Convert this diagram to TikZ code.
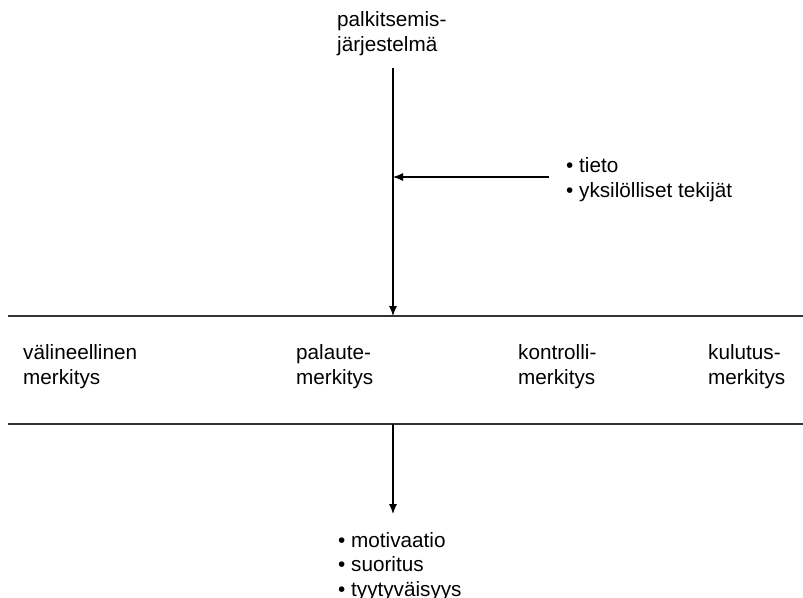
\documentclass[tikz,border=0pt]{standalone}
\usepackage{fontspec}
\setmainfont{Liberation Sans}
\usetikzlibrary{arrows.meta}
\begin{document}
\begin{tikzpicture}[x=1pt,y=-1pt,
  lbl/.style={anchor=base west,inner sep=0pt,align=left,
    font=\fontsize{20.7}{24.5}\selectfont},
  arr/.style={line width=1.1pt,-{Latex[length=10pt,width=8pt]}},
  band/.style={line width=1.5pt,draw=black!80}]
\useasboundingbox (0,0) rectangle (803,597);
% source of the flow (anchored at the baseline of the last line)
\node[lbl] (sys) at (337,51) {palkitsemis-\\järjestelmä};
\coordinate (top) at (393,68);
% the band of meanings
\coordinate (bandTL) at (8,316);
\coordinate (bandTR) at (803,316);
\coordinate (bandBL) at (8,424);
\coordinate (bandBR) at (803,424);
\draw[band] (bandTL) -- (bandTR);
\draw[band] (bandBL) -- (bandBR);
\coordinate (hit) at (393,316);
\coordinate (out) at (393,424);
\node[lbl] (m1) at (23,384) {välineellinen\\merkitys};
\node[lbl] (m2) at (296,384) {palaute-\\merkitys};
\node[lbl] (m3) at (518,384) {kontrolli-\\merkitys};
\node[lbl] (m4) at (708,384) {kulutus-\\merkitys};
% influencing factors
\node[lbl] (fac) at (566,197) {• tieto\\• yksilölliset tekijät};
\coordinate (facL) at (549,177);
\coordinate (join) at (393,177);
% outcomes
\node[lbl] (res) at (338,596) {• motivaatio\\• suoritus\\• tyytyväisyys};
\coordinate (resT) at (393,514);
% arrows
\draw[arr] (top) -- (hit);
\draw[arr] (facL) -- (join);
\draw[arr] (out) -- (resT);
\end{tikzpicture}
\end{document}
